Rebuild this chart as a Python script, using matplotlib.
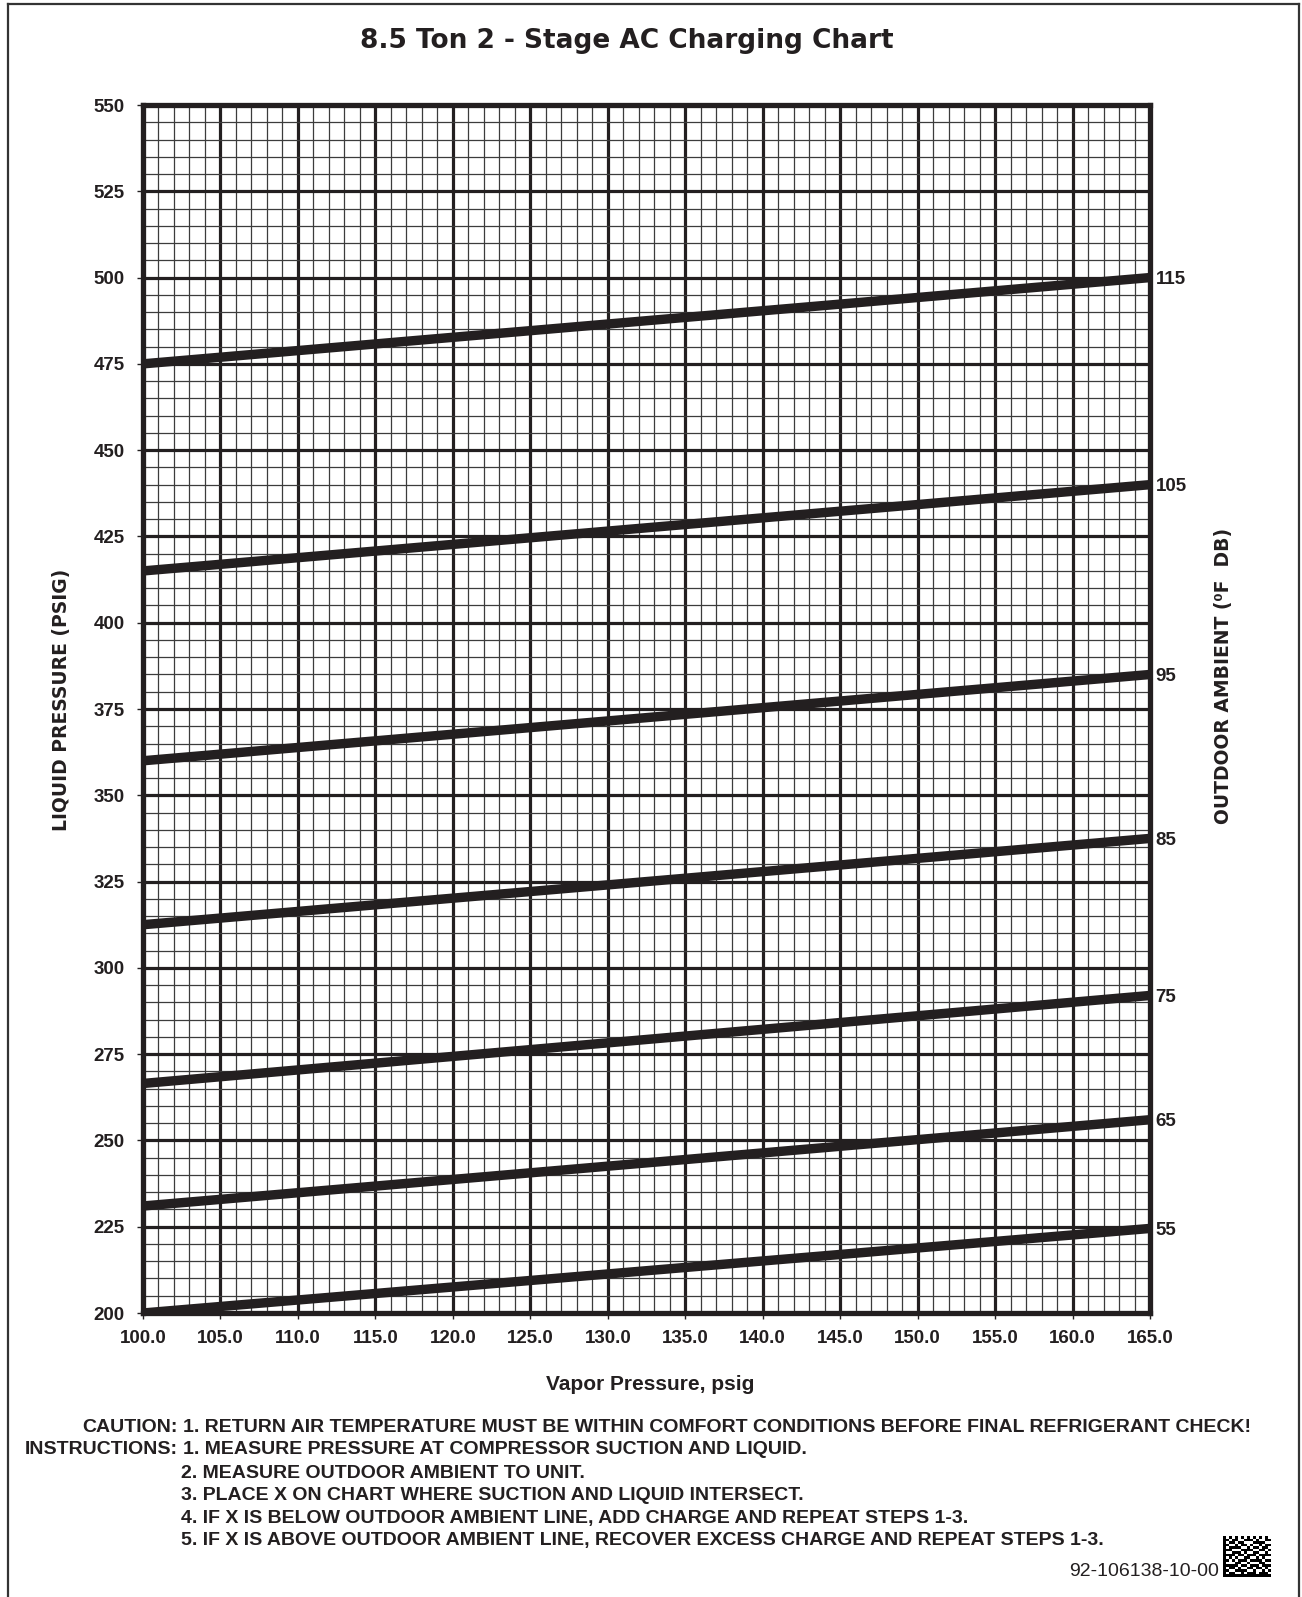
import matplotlib
matplotlib.use("Agg")
import matplotlib.pyplot as plt
import numpy as np
from matplotlib.lines import Line2D

# ---------------- data ----------------
vapor_range = [100.0, 165.0]
ambient_temps = [115, 105, 95, 85, 75, 65, 55]
liquid_at_100 = [475, 415, 360, 312.5, 266.5, 231, 200]
liquid_at_165 = [500, 440, 385, 337.5, 292, 256, 224.5]

x_ticks = [100.0, 105.0, 110.0, 115.0, 120.0, 125.0, 130.0, 135.0,
           140.0, 145.0, 150.0, 155.0, 160.0, 165.0]
y_ticks = [200, 225, 250, 275, 300, 325, 350, 375, 400, 425, 450, 475, 500, 525, 550]

title = "8.5 Ton 2 - Stage AC Charging Chart"
xlabel = "Vapor Pressure, psig"
ylabel_left = "LIQUID PRESSURE (PSIG)"
ylabel_right = "OUTDOOR AMBIENT (\u2070F  DB)"
caution_head = "CAUTION:"
caution_text = "1. RETURN AIR TEMPERATURE MUST BE WITHIN COMFORT CONDITIONS BEFORE FINAL REFRIGERANT CHECK!"
instr_head = "INSTRUCTIONS:"
instr_lines = [
    "1. MEASURE PRESSURE AT COMPRESSOR SUCTION AND LIQUID.",
    "2. MEASURE OUTDOOR AMBIENT TO UNIT.",
    "3. PLACE X ON CHART WHERE SUCTION AND LIQUID INTERSECT.",
    "4. IF X IS BELOW OUTDOOR AMBIENT LINE, ADD CHARGE AND REPEAT STEPS 1-3.",
    "5. IF X IS ABOVE OUTDOOR AMBIENT LINE, RECOVER EXCESS CHARGE AND REPEAT STEPS 1-3.",
]
part_number = "92-106138-10-00"
barcode_rows = [
    "1010101010101010",
    "1101100111010011",
    "1011011000111100",
    "1100101101001011",
    "1011110010110110",
    "1110001111001101",
    "1001110100110010",
    "1111011011101111",
    "1010100110010100",
    "1101011101111011",
    "1000110010001100",
    "1111101101110111",
    "1011010011011010",
    "1100111100100101",
    "1011001011101110",
    "1111111111111111",
]

# ---------------- figure ----------------
W, H = 1302, 1597
fig = plt.figure(figsize=(W / 100, H / 100), dpi=100)

def fx(px):
    return px / W

def fy(py):
    return 1 - py / H

ax_l, ax_r, ax_t, ax_b = 143, 1150, 105, 1313
ax = fig.add_axes([fx(ax_l), fy(ax_b), fx(ax_r - ax_l), (ax_b - ax_t) / H])

ax.set_xlim(vapor_range)
ax.set_ylim(y_ticks[0], y_ticks[-1])

# grid
ax.set_xticks(x_ticks)
ax.set_yticks(y_ticks)
ax.set_xticks(np.arange(100, 166, 1), minor=True)
ax.set_yticks(np.arange(200, 551, 5), minor=True)
ax.grid(which="minor", color="#3c3c3c", linewidth=0.9, zorder=1)
ax.grid(which="major", color="#231f20", linewidth=2.3, zorder=2)
ax.set_axisbelow(True)

# lines
for lo, hi in zip(liquid_at_100, liquid_at_165):
    ax.plot(vapor_range, [lo, hi], color="#231f20", linewidth=6.8,
            solid_capstyle="butt", zorder=3)

for s in ax.spines.values():
    s.set_linewidth(3.8)
    s.set_color("#231f20")
    s.set_zorder(5)

tick_font = dict(family="Liberation Sans", weight="bold", size=13.5)
ax.set_xticklabels([f"{v:.1f}" for v in x_ticks], fontdict=tick_font, color="#231f20")
ax.set_yticklabels([str(v) for v in y_ticks], fontdict=tick_font, color="#231f20")
ax.tick_params(which="major", length=4, width=1, color="#231f20")
ax.tick_params(axis="y", which="major", pad=9)
ax.tick_params(axis="x", which="major", pad=8)
ax.tick_params(which="minor", length=0)

# right-hand ambient labels
ax2 = ax.twinx()
ax2.set_ylim(ax.get_ylim())
ax2.set_yticks(liquid_at_165)
ax2.set_yticklabels([str(t) for t in ambient_temps], fontdict=tick_font, color="#231f20")
ax2.tick_params(axis="y", length=0, pad=4)
for s in ax2.spines.values():
    s.set_visible(False)

# titles and labels
fig.text(fx(627), fy(41), title, ha="center", va="center",
         family="DejaVu Sans", weight="bold", size=19, color="#231f20")
fig.text(fx(650), fy(1384), xlabel, ha="center", va="center",
         family="Liberation Sans", weight="bold", size=15, color="#231f20")
fig.text(fx(62), fy(700), ylabel_left, ha="center", va="center", rotation=90,
         family="DejaVu Sans", weight="bold", size=13.5, color="#231f20")
fig.text(fx(1224), fy(676), ylabel_right, ha="center", va="center", rotation=90,
         family="DejaVu Sans", weight="bold", size=13.5, color="#231f20")

# instructions
txt = dict(family="Liberation Sans", weight="bold", size=14, color="#231f20", va="center")
fig.text(fx(178), fy(1427), caution_head, ha="right", **txt)
fig.text(fx(183), fy(1427), caution_text, ha="left", **txt)
fig.text(fx(178), fy(1450), instr_head, ha="right", **txt)
fig.text(fx(183), fy(1450), instr_lines[0], ha="left", **txt)
for i, line in enumerate(instr_lines[1:]):
    fig.text(fx(181), fy(1473 + 22.6 * i), line, ha="left", **txt)

fig.text(fx(1219), fy(1571), part_number, ha="right", va="center",
         family="Liberation Sans", size=14, color="#231f20")

# barcode
bits = np.array([[int(c) for c in r] for r in barcode_rows])
bax = fig.add_axes([fx(1223), fy(1577), fx(48), 41 / H])
bax.imshow(1 - bits, cmap="gray", interpolation="nearest", aspect="auto")
bax.axis("off")

# outer frame
frame_kw = dict(color="#333333", linewidth=1.6, transform=fig.transFigure)
fig.add_artist(Line2D([fx(8), fx(8)], [fy(4), 0], **frame_kw))
fig.add_artist(Line2D([fx(8), fx(1299)], [fy(4), fy(4)], **frame_kw))
fig.add_artist(Line2D([fx(1299), fx(1299)], [fy(4), 0], **frame_kw))

fig.savefig("out.png", dpi=100, facecolor="white")
